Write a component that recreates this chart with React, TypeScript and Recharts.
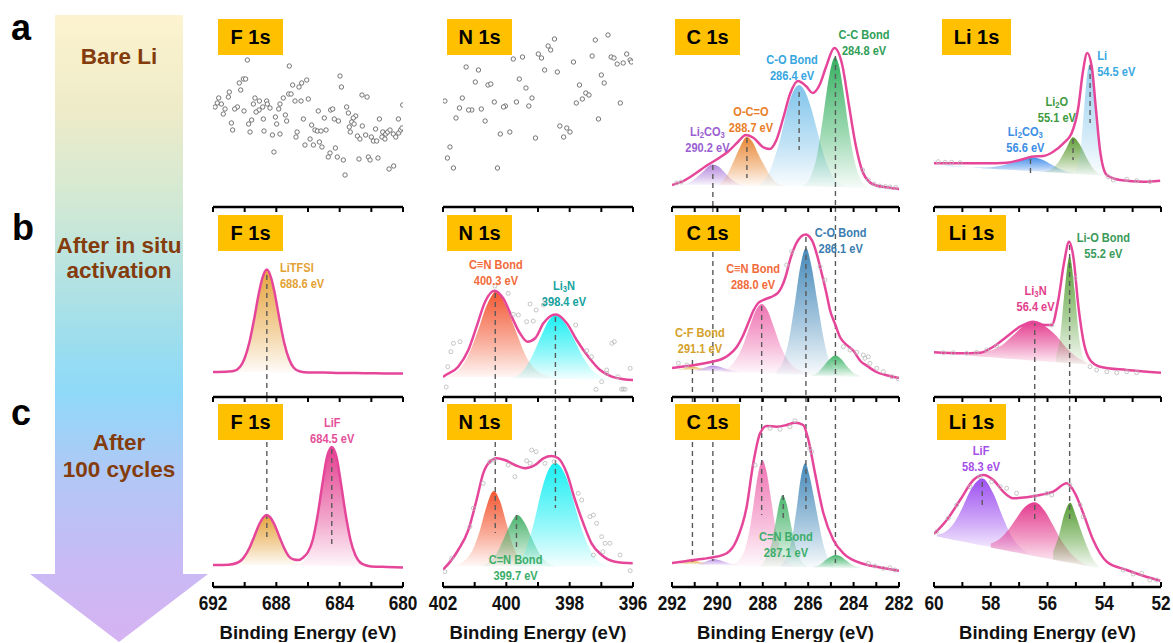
import React from "react";
import {
  ComposedChart,
  Area,
  Line,
  Scatter,
  XAxis,
  YAxis,
  ReferenceLine,
  ReferenceDot,
} from "recharts";

type P2 = [number, number];
type P3 = [number, number, number];

const FONT = "'Liberation Sans', Arial, Helvetica, sans-serif";
const PINK = "#E6469A";
const NARROW_X = 0.82;

// ---------- axes ----------
const F_TICKS = [692, 690, 688, 686, 684, 682, 680];
const F_LABELS = [692, 688, 684, 680];
const N_TICKS = [402, 401, 400, 399, 398, 397, 396];
const N_LABELS = [402, 400, 398, 396];
const C_TICKS = [292, 291, 290, 289, 288, 287, 286, 285, 284, 283, 282];
const C_LABELS = [292, 290, 288, 286, 284, 282];
const LI_TICKS = [60, 59, 58, 57, 56, 55, 54, 53, 52];
const LI_LABELS = [60, 58, 56, 54, 52];

// ---------- row a: bare Li ----------
const F_A_DOTS: P2[] = [
  [689.83, 146], [687.18, 140], [683.98, 130], [690.08, 127], [689.94, 127], [690.34, 123], [690.25, 116],
  [686.08, 126], [686.4, 123], [686.57, 119], [686.97, 121], [683.89, 119], [690.97, 114], [691.03, 109],
  [687.22, 112], [687.07, 112], [687.56, 108], [682.59, 111], [682.27, 109], [691.64, 108], [691.73, 103],
  [691.47, 102], [691.87, 99], [691.24, 97], [690.46, 99], [690.63, 97], [690.04, 95], [689.35, 108],
  [689.07, 105], [688.61, 105], [688.57, 102], [688.86, 99], [688.4, 98], [689.09, 96], [689.28, 94],
  [689.45, 102], [687.77, 102], [687.85, 97], [686.82, 105], [686.44, 105], [685.98, 107], [680.02, 101],
  [685.35, 95], [684.57, 96], [684.44, 97], [683.56, 99], [683.45, 93], [682.99, 90], [683.14, 88],
  [683.24, 84], [683.39, 79], [683.09, 82], [682.57, 80], [681.49, 87], [680.29, 87], [691.35, 92],
  [690.84, 83], [690.76, 76], [689.75, 82], [689.56, 86], [689.66, 74], [688.82, 87], [688.78, 75],
  [688.06, 89], [687.43, 91], [687.35, 85], [687.98, 82], [688.25, 71], [687.77, 72], [686.69, 74],
  [686.76, 69], [686.29, 87], [685.77, 81], [685.56, 76], [685.41, 75], [685.18, 75], [684.86, 76],
  [684.97, 88], [684.34, 87], [684.08, 85], [683.33, 74], [682.88, 70], [682.72, 67], [682.36, 71],
  [682.0, 69], [681.87, 65], [681.66, 65], [681.73, 77], [681.28, 74], [681.33, 69], [681.09, 72],
  [680.97, 74], [680.82, 76], [680.61, 72], [680.46, 69], [680.27, 73], [680.15, 76], [680.06, 78],
  [681.14, 67], [686.19, 61], [685.87, 67], [685.66, 61], [685.28, 64], [685.12, 59], [684.27, 58],
  [684.61, 53], [684.72, 49], [684.15, 49], [683.77, 46], [688.15, 54], [682.78, 47], [682.19, 49],
  [682.08, 46], [681.58, 48], [683.66, 31], [680.88, 37], [680.59, 40],
];

const N_A_DOTS: P2[] = [
  [398.48, 167], [398.68, 160], [398.6, 156], [398.99, 152], [398.89, 148], [399.78, 147], [399.49, 149],
  [401.27, 139], [400.88, 136], [397.19, 166], [396.79, 171], [397.29, 150], [397.88, 144], [396.69, 149],
  [396.6, 148], [396.2, 152], [396.09, 146], [396.31, 143], [396.5, 142], [396.05, 144], [398.79, 136],
  [398.39, 134], [399.59, 127], [400.98, 124], [400.58, 121], [400.49, 122], [399.38, 118], [397.0, 131],
  [396.91, 123], [397.69, 121], [397.49, 113], [397.6, 107], [397.39, 111], [397.79, 103], [399.19, 108],
  [399.29, 100], [399.68, 104], [400.03, 100], [400.09, 99], [400.38, 104], [400.79, 97], [401.09, 96],
  [401.19, 96], [401.48, 98], [401.39, 108], [401.94, 105], [401.59, 88], [400.67, 85], [396.4, 103],
  [397.09, 87], [398.31, 80], [398.09, 78], [397.99, 74], [398.19, 69], [399.08, 68], [399.89, 74],
  [400.19, 72], [401.78, 59], [401.86, 48], [401.67, 38], [400.28, 38],
];

const C_A_ENV: P2[] = [
  [292, 21], [291.5, 25], [291, 32], [290.5, 40], [290, 47], [289.5, 55], [289.1, 64], [288.75, 71],
  [288.4, 68], [288, 59], [287.7, 57], [287.4, 66], [287.1, 88], [286.8, 112], [286.45, 125], [286.1, 120],
  [285.8, 113], [285.5, 121], [285.2, 140], [284.85, 158], [284.5, 141], [284.2, 100], [283.9, 60],
  [283.6, 34], [283.3, 24], [283, 20.5], [282.5, 18.5], [282, 17],
];
const C_A_LI2CO3: P3[] = [
  [291.6, 21, 21.5], [291.2, 21, 24], [290.9, 21, 29], [290.6, 21, 35], [290.4, 21, 39.5], [290.2, 21, 41.5],
  [289.95, 20.5, 39.5], [289.7, 20.5, 34], [289.4, 20.5, 27], [289.1, 20.5, 22.5], [288.8, 20, 20.5],
];
const C_A_OCO: P3[] = [
  [289.9, 20.5, 22], [289.6, 20.5, 30], [289.3, 20.5, 44], [289.0, 20.5, 59], [288.72, 20, 69], [288.45, 20, 64],
  [288.2, 20, 52], [287.9, 20, 39], [287.6, 20, 28], [287.3, 20, 22], [287.0, 20, 20.5],
];
const C_A_CO: P3[] = [
  [288.1, 20, 23], [287.8, 20, 30], [287.5, 20, 47], [287.2, 20, 70], [286.9, 20, 99], [286.65, 20, 115],
  [286.4, 20, 121], [286.15, 20, 115], [285.9, 20, 100], [285.6, 19.5, 75], [285.3, 19.5, 50], [285.0, 19.5, 33],
  [284.7, 19.5, 24], [284.4, 19, 20.5],
];
const C_A_CC: P3[] = [
  [286.2, 19.5, 21], [285.9, 19.5, 29], [285.6, 19.5, 52], [285.35, 19.5, 88], [285.1, 19, 127], [284.95, 19, 143],
  [284.82, 19, 149], [284.65, 19, 141], [284.45, 19, 115], [284.2, 18.5, 75], [283.95, 18.5, 44], [283.7, 18.5, 27],
  [283.4, 18, 20],
];
const C_A_RAW: P2[] = [
  [291.8, 23], [291.6, 24], [283.6, 36], [283.35, 26], [283.1, 22], [282.85, 20], [282.6, 19.5], [282.4, 19], [282.15, 18.5],
];

const LI_A_ENV: P2[] = [
  [60, 42.7], [59.08, 42.7], [58.14, 42.7], [57.44, 43.3], [56.97, 46], [56.56, 49.3], [56.15, 50], [55.8, 54.3],
  [55.44, 62.7], [55.15, 72.7], [54.91, 99.3], [54.76, 132.7], [54.6, 153], [54.44, 139.3], [54.29, 96],
  [54.15, 56], [53.91, 31], [53.44, 26], [52.62, 24.3], [52.03, 25.3],
];
const LI_A_LI2CO3: P3[] = [
  [59.6, 40.3, 40.5], [59.1, 39.4, 39.8], [58.6, 38.2, 38.5], [58.2, 37.5, 38.6], [57.8, 36.8, 39.5],
  [57.4, 36.3, 42], [57.0, 35.6, 45.5], [56.6, 34.9, 48.7], [56.2, 34.2, 46.5], [55.8, 33.4, 40.5],
  [55.4, 32.7, 35], [55.0, 32, 32.3],
];
const LI_A_LI2O: P3[] = [
  [56.1, 33.9, 34.3], [55.85, 33.5, 37], [55.6, 33, 44.5], [55.35, 32.6, 57], [55.1, 32.2, 68.7],
  [54.85, 31.7, 61], [54.6, 31.3, 47], [54.35, 30.8, 36], [54.1, 30.4, 31.3],
];
const LI_A_LI: P3[] = [
  [55.0, 31.8, 35], [54.85, 31.6, 52], [54.7, 31.3, 100], [54.55, 31, 140], [54.45, 30.8, 143],
  [54.3, 30.5, 92], [54.15, 30.3, 48], [54.0, 30.1, 32],
];
const LI_A_RAW: P2[] = [
  [59.85, 44.3], [59.61, 43.7], [59.38, 43.7], [59.08, 43.3], [53.86, 29.3], [53.68, 26], [53.21, 26.7],
  [52.86, 25.3], [52.39, 24.3],
];

// ---------- row b: after in situ activation ----------
const F_B_ENV: P2[] = [
  [692, 25], [691, 25.5], [690.7, 26], [690.3, 30], [690, 38.8], [689.7, 54.7], [689.4, 78], [689.1, 104],
  [688.9, 118], [688.6, 127.5], [688.3, 117.5], [688.1, 103.5], [687.8, 77.5], [687.5, 54], [687.2, 38],
  [686.9, 29.3], [686.5, 25.5], [686, 24.5], [685, 24.5], [684, 24], [683, 24], [682, 23.7], [681, 23.5], [680, 23.5],
];
const F_B_LITFSI: P3[] = [
  [690.7, 25, 26], [690.3, 25, 30], [690, 25, 38.8], [689.7, 25, 54.7], [689.4, 25, 78], [689.1, 25, 104],
  [688.9, 25, 118], [688.6, 24.8, 127.5], [688.3, 24.7, 117.5], [688.1, 24.6, 103.5], [687.8, 24.6, 77.5],
  [687.5, 24.5, 54], [687.2, 24.5, 38], [686.9, 24.5, 29.3], [686.5, 24.5, 25.5],
];

const N_B_ENV: P2[] = [
  [402, 20], [401.96, 21], [401.52, 30.3], [401.2, 47], [400.94, 70.3], [400.67, 95.3], [400.38, 106.3],
  [400.1, 98.7], [399.83, 80.3], [399.57, 63.7], [399.33, 55.3], [399.09, 58.7], [398.83, 73.7], [398.44, 82.5],
  [398.09, 73.7], [397.78, 57], [397.41, 40.3], [397.04, 27], [396.67, 20.3], [396.3, 17.8], [396, 17],
];
const N_B_CN: P3[] = [
  [401.9, 20, 21], [401.5, 20, 27], [401.2, 20, 42], [400.9, 20, 66], [400.6, 20, 93], [400.3, 20, 106],
  [400.0, 20, 90], [399.7, 19.5, 66], [399.4, 19.5, 42], [399.1, 19.5, 28], [398.8, 19, 22], [398.5, 19, 19.5],
];
const N_B_LI3N: P3[] = [
  [399.8, 18.5, 19], [399.5, 18.5, 25], [399.2, 18.5, 40], [398.9, 18, 61], [398.65, 18, 77], [398.44, 18, 82],
  [398.2, 18, 76], [397.9, 18, 60], [397.6, 17.5, 41], [397.3, 17.5, 27], [397.0, 17.5, 20], [396.7, 17, 17.5],
];
const N_B_RAW: P2[] = [
  [401.67, 53.7], [401.46, 55.3], [401.75, 45.3], [401.85, 30.3], [399.94, 103.7], [399.78, 82.7], [399.62, 82],
  [399.36, 75.3], [399.15, 76], [399.25, 93], [399.06, 87], [398.78, 97], [398.46, 95.3], [397.81, 72],
  [397.46, 46.3], [397.31, 40.3], [396.67, 53.7], [396.59, 55.3], [396.99, 15.3], [396.83, 23.7], [396.48, 20.3],
  [396.36, 7.7], [396.25, 7.7], [397.17, 7.7], [400.36, 111], [398.83, 92], [396.83, 27], [396.31, 8],
  [396.09, 28.7], [401.9, 10],
];

const C_B_ENV: P2[] = [
  [292, 29], [291.5, 30.5], [291, 32], [290.5, 34], [290.2, 35.5], [289.8, 38], [289.5, 42], [289.15, 50],
  [288.9, 60], [288.64, 74], [288.4, 87], [288.2, 94], [287.98, 97], [287.75, 99], [287.54, 101], [287.3, 105],
  [287.17, 110], [287.0, 120], [286.8, 137], [286.6, 150], [286.44, 157], [286.11, 162.5], [285.9, 159],
  [285.78, 154], [285.6, 141], [285.41, 124], [285.2, 104], [285.04, 87], [284.8, 72], [284.6, 60], [284.3, 52],
  [284.0, 46], [283.7, 36], [283.4, 31], [283.0, 25], [282.5, 21.5], [282.0, 19],
];
const C_B_CF: P3[] = [
  [291.8, 26.5, 27], [291.4, 26.5, 29], [291.1, 26.5, 30.5], [290.8, 26.5, 29], [290.4, 26.5, 27],
];
const C_B_LI2CO3: P3[] = [
  [291.0, 26, 26.5], [290.6, 26, 29], [290.2, 25.5, 31.5], [289.8, 25.5, 29.5], [289.4, 25, 26.5], [289.0, 25, 25.3],
];
const C_B_CN: P3[] = [
  [289.8, 24.6, 26], [289.5, 24.5, 29.5], [289.2, 24.4, 37], [288.9, 24.3, 50], [288.6, 24.2, 69],
  [288.3, 24.1, 87], [288.05, 24, 93], [287.8, 23.8, 87], [287.5, 23.6, 69], [287.2, 23.4, 50],
  [286.9, 23.2, 37], [286.6, 23, 29.5], [286.3, 22.8, 26], [286.0, 22.6, 24],
];
const C_B_CO: P3[] = [
  [287.4, 22.5, 25.5], [287.1, 22.5, 36], [286.85, 22.5, 57], [286.6, 22.4, 92], [286.35, 22.3, 130],
  [286.1, 22.3, 149], [285.85, 22.2, 130], [285.6, 22.2, 96], [285.35, 22.1, 62], [285.1, 22, 38],
  [284.8, 22, 26], [284.5, 22, 22.7],
];
const C_B_CC: P3[] = [
  [285.9, 21, 21.5], [285.6, 21, 24], [285.3, 21, 31.5], [285.05, 20.5, 38], [284.8, 20.5, 41.5],
  [284.55, 20.5, 38], [284.3, 20, 31], [284.0, 20, 24], [283.7, 20, 21],
];
const C_B_RAW: P2[] = [
  [284.45, 50.3], [284.16, 47], [283.86, 44.7], [283.57, 42], [283.35, 40.3], [283.5, 38.7], [283.28, 33.7],
  [282.98, 28.7], [282.69, 25.3], [282.32, 20.3], [282.03, 18], [291.72, 33.7], [291.35, 32], [286.95, 132],
  [286.73, 145.3], [285.48, 130.3], [285.26, 117],
];

const LI_B_ENV: P2[] = [
  [60, 44.7], [59.08, 43.7], [58.38, 44.3], [57.91, 50.3], [57.44, 60.3], [56.97, 70.3], [56.5, 75.3],
  [56.09, 72], [55.85, 72], [55.62, 97], [55.42, 133.7], [55.24, 155.3], [55.09, 140.3], [54.91, 90.3],
  [54.74, 57], [54.5, 37], [54.15, 30.3], [53.21, 27], [52, 24.3],
];
const LI_B_LI3N: P3[] = [
  [58.8, 41.4, 42], [58.4, 40.5, 43.5], [58.0, 39.7, 46.5], [57.6, 38.8, 52], [57.2, 38, 62], [56.8, 37.1, 72],
  [56.45, 36.3, 76], [56.1, 35.6, 71], [55.7, 34.7, 61.5], [55.3, 33.9, 48], [54.9, 33, 38.5], [54.5, 32.2, 33.5],
];
const LI_B_LIO: P3[] = [
  [55.7, 34.7, 40.5], [55.55, 34.4, 61], [55.4, 34.1, 105], [55.22, 33.8, 140.5], [55.05, 33.5, 108],
  [54.9, 33.2, 63], [54.75, 32.9, 39.5], [54.6, 32.6, 33.5],
];
const LI_B_RAW: P2[] = [
  [59.67, 44.3], [59.32, 44.3], [58.85, 43.7], [58.5, 44.7], [58.14, 47], [57.79, 51], [55.85, 72], [55.03, 118.7],
  [54.5, 30.3], [54.27, 27], [53.91, 25.3], [53.56, 24.3], [53.21, 25.3], [52.86, 24.3],
];

// ---------- row c: after 100 cycles ----------
const F_C_ENV: P2[] = [
  [692, 22], [691, 22.3], [690.5, 24], [690.2, 27], [690, 30.8], [689.7, 39], [689.4, 50.3], [689.1, 62],
  [688.8, 70], [688.6, 72], [688.4, 69.8], [688.1, 61.8], [687.8, 50], [687.5, 38.8], [687.2, 30.5],
  [686.9, 27.5], [686.6, 27], [686.3, 29.5], [686, 35], [685.7, 47], [685.4, 71], [685.1, 102], [684.8, 130],
  [684.5, 140], [684.2, 130], [683.9, 101.5], [683.6, 70.5], [683.3, 46], [683, 31.5], [682.7, 24.5],
  [682.4, 22], [682, 20.5], [681, 20], [680, 19.5],
];
const F_C_LITFSI: P3[] = [
  [690.8, 22, 23], [690.5, 22, 24], [690.2, 22, 27], [690, 22, 30.8], [689.7, 22, 39], [689.4, 22, 50.3],
  [689.1, 22, 62], [688.8, 22, 70], [688.6, 22, 72], [688.4, 22, 69.8], [688.1, 22, 61.8], [687.8, 22, 50],
  [687.5, 21.8, 38.8], [687.2, 21.8, 30.5], [686.9, 21.8, 25.6], [686.6, 21.7, 23], [686.3, 21.7, 22],
];
const F_C_LIF: P3[] = [
  [687, 21.7, 21.9], [686.6, 21.6, 22.5], [686.3, 21.5, 25], [686, 21.4, 32], [685.7, 21.3, 46], [685.4, 21.2, 71],
  [685.1, 21.1, 102], [684.8, 21, 130], [684.5, 21, 140], [684.2, 20.9, 130], [683.9, 20.8, 101.5],
  [683.6, 20.7, 70.5], [683.3, 20.6, 46], [683, 20.5, 31.5], [682.7, 20.4, 24.5], [682.4, 20.3, 21.5], [682, 20.2, 20.5],
];

const N_C_ENV: P2[] = [
  [402, 17.5], [401.96, 18.7], [401.52, 37], [401.2, 57], [400.94, 87], [400.73, 113.7], [400.52, 125.3],
  [400.31, 128.7], [400.05, 127], [399.73, 122], [399.41, 118.7], [399.09, 122], [398.83, 128.7], [398.57, 131],
  [398.36, 128.7], [398.09, 113.7], [397.83, 87], [397.57, 63.7], [397.31, 43.7], [396.99, 32], [396.57, 25.3],
  [396.01, 23.7],
];
const N_C_CN: P3[] = [
  [401.6, 21, 22], [401.3, 21, 27], [401.05, 21, 38], [400.85, 21, 55], [400.65, 21, 78], [400.4, 21, 96],
  [400.2, 21, 86], [400.0, 21, 64], [399.8, 21, 42], [399.6, 21, 29], [399.4, 21, 23], [399.2, 21, 21.5],
];
const N_C_CEN: P3[] = [
  [400.8, 20.5, 21.5], [400.5, 20.5, 26], [400.3, 20.5, 34], [400.1, 20.5, 47], [399.9, 20.5, 61], [399.65, 20.5, 72],
  [399.4, 20.5, 63], [399.2, 20.5, 49], [399.0, 20.5, 36], [398.8, 20.5, 27], [398.5, 20, 21.5],
];
const N_C_LI3N: P3[] = [
  [399.9, 20.5, 21], [399.6, 20.5, 25], [399.3, 20.5, 45], [399.1, 20.5, 68], [398.9, 20.5, 95], [398.7, 20, 115],
  [398.46, 20, 124], [398.2, 20, 116], [398.0, 20, 100], [397.8, 20, 77], [397.6, 20, 56], [397.35, 20, 37],
  [397.1, 20, 26], [396.8, 20, 21.5],
];
const N_C_RAW: P2[] = [
  [399.2, 137], [399.06, 135.3], [400.52, 125.3], [400.39, 127], [399.94, 122], [399.73, 110.3], [399.36, 126.3],
  [399.25, 123.7], [398.78, 123.7], [398.49, 125.3], [400.73, 103.7], [401.04, 78.7], [401.15, 60.3],
  [401.73, 28.7], [397.73, 93.7], [397.62, 87], [397.36, 70.3], [397.25, 72], [397.15, 63.7], [396.99, 50.3],
  [396.88, 43.7], [396.73, 43.7], [396.95, 35.3], [397.25, 32], [396.41, 32], [396.09, 16.3], [401.94, 15.3],
];

const C_C_ENV: P2[] = [
  [292, 24], [291.5, 25.5], [291.06, 27], [290.6, 28.3], [290.18, 29.7], [289.59, 33.7], [289.15, 47],
  [288.71, 80.3], [288.42, 123.7], [288.12, 153.7], [287.83, 161], [287.39, 160.3], [286.95, 162],
  [286.58, 164.3], [286.22, 162], [285.99, 147], [285.7, 113.7], [285.33, 73.7], [284.89, 47], [284.45, 33.7],
  [283.86, 25.3], [283.3, 21.5], [282.7, 19], [282, 16.3],
];
const C_C_CF: P3[] = [
  [291.7, 22.5, 23], [291.3, 22.5, 25.5], [291.0, 22.5, 26], [290.7, 22.5, 24.5], [290.4, 22.5, 23],
];
const C_C_LI2CO3: P3[] = [
  [290.9, 22, 22.5], [290.5, 22, 25.5], [290.15, 22, 28], [289.8, 22, 26], [289.4, 21.5, 23], [289.0, 21.5, 21.8],
];
const C_C_CN: P3[] = [
  [289.3, 21, 23], [289.05, 21, 27], [288.8, 21, 37], [288.6, 21, 55], [288.4, 21, 84], [288.2, 21, 114],
  [288.02, 21, 127], [287.85, 21, 117], [287.65, 21, 90], [287.45, 20.8, 60], [287.25, 20.8, 39],
  [287.0, 20.6, 27], [286.7, 20.5, 22],
];
const C_C_CEN: P3[] = [
  [288.1, 20, 22], [287.85, 20, 29], [287.6, 20, 45], [287.4, 20, 69], [287.25, 20, 86], [287.12, 20, 92],
  [286.95, 20, 83], [286.75, 20, 61], [286.55, 20, 40], [286.3, 20, 26], [286.05, 20, 21],
];
const C_C_CO: P3[] = [
  [287.2, 20, 22], [286.95, 20, 30], [286.7, 20, 50], [286.5, 20, 80], [286.3, 20, 112.5], [286.13, 20, 124],
  [285.95, 20, 112], [285.75, 20, 90], [285.55, 20, 66], [285.35, 20, 44], [285.15, 20, 30], [284.9, 20, 22.5],
];
const C_C_CC: P3[] = [
  [285.8, 19.5, 20], [285.5, 19.5, 22], [285.2, 19.5, 27.5], [284.95, 19, 31], [284.8, 19, 32], [284.6, 19, 31],
  [284.35, 19, 27], [284.05, 18.5, 22], [283.7, 18.5, 19.5],
];
const C_C_RAW: P2[] = [
  [287.68, 158.7], [287.24, 157.7], [286.8, 160.3], [286.58, 166.3], [285.93, 138.7], [285.85, 135.3],
  [288.34, 122], [283.35, 23.7], [283.06, 21], [282.69, 18.7], [282.4, 19.3], [282.18, 17],
];

const LI_C_ENV: P2[] = [
  [60, 53], [59.55, 67], [59.08, 87], [58.61, 107], [58.26, 112], [57.91, 107], [57.56, 95.3], [57.21, 88.7],
  [56.73, 89.7], [56.26, 92], [55.8, 95.3], [55.32, 103.7], [55.03, 93.7], [54.74, 73.7], [54.39, 47],
  [53.91, 25.3], [53.21, 17], [52.6, 11], [52.03, 6.3],
];
const LI_C_LIF: P3[] = [
  [59.9, 50.4, 52.3], [59.6, 48.8, 55.2], [59.3, 47.1, 63.8], [59.0, 45.4, 79.3], [58.7, 43.8, 97.4],
  [58.3, 41.5, 108.5], [57.9, 39.3, 92.9], [57.6, 37.6, 71.5], [57.3, 35.9, 52.6], [57.0, 34.3, 40.7], [56.7, 32.6, 34.5],
];
const LI_C_LI3N: P3[] = [
  [58.0, 39.5, 43.5], [57.7, 37.7, 47.7], [57.4, 36.1, 56.5], [57.1, 34.4, 68.6], [56.8, 32.8, 80.1],
  [56.45, 30.8, 84.8], [56.1, 28.9, 76.2], [55.8, 27.2, 61.4], [55.5, 25.5, 45.9], [55.2, 24.3, 34.3],
  [54.9, 22.6, 26.6], [54.6, 20.9, 21.9],
];
const LI_C_LIO: P3[] = [
  [55.8, 27.6, 35.7], [55.6, 26.5, 51.2], [55.4, 25.4, 73.4], [55.2, 24.3, 84.3], [55.0, 23.2, 71.2],
  [54.8, 22.1, 55], [54.6, 21, 40], [54.4, 19.8, 28], [54.2, 18.7, 21],
];
const LI_C_RAW: P2[] = [
  [59.91, 55.3], [59.5, 68.7], [59.2, 82], [58.73, 100.3], [58.38, 110.3], [57.97, 105.3], [57.67, 100.3],
  [57.44, 98.7], [57.09, 93.7], [56.44, 91], [56.03, 93.7], [55.85, 92], [55.21, 102], [54.85, 82], [54.74, 70.3],
  [53.33, 17], [52.98, 13], [52.68, 13.7], [52.39, 7], [52.15, 7],
];

// ---------- layout ----------
type ColKey = "F" | "N" | "C" | "Li";
type RowKey = "a" | "b" | "c";

const COLS: Record<ColKey, { x: number; w: number; lo: number; hi: number; ticks: number[]; labels: number[]; title: string; boxW: number }> = {
  F: { x: 213, w: 190, lo: 680, hi: 692, ticks: F_TICKS, labels: F_LABELS, title: "F 1s", boxW: 65 },
  N: { x: 443, w: 190, lo: 396, hi: 402, ticks: N_TICKS, labels: N_LABELS, title: "N 1s", boxW: 65 },
  C: { x: 672, w: 227, lo: 282, hi: 292, ticks: C_TICKS, labels: C_LABELS, title: "C 1s", boxW: 65 },
  Li: { x: 934, w: 227, lo: 52, hi: 60, ticks: LI_TICKS, labels: LI_LABELS, title: "Li 1s", boxW: 69 },
};
const ROW_TOP: Record<RowKey, number> = { a: 16, b: 207, c: 397 };
const BOX_DY: Record<RowKey, number> = { a: 3, b: 8, c: 7 };
const PLOT_H = 190;
const PAD_X = 24;

interface Comp { pts: P3[]; color: string }
interface Note { e: number; y: number; l1: string; l2: string; color: string; anchor?: "start" | "middle" }
interface Spec {
  col: ColKey;
  row: RowKey;
  env?: P2[];
  comps?: Comp[];
  dots?: P2[];
  raw?: P2[];
  dashes?: P3[];
  notes?: Note[];
}

const PANELS: Spec[] = [
  { col: "F", row: "a", dots: F_A_DOTS },
  { col: "N", row: "a", dots: N_A_DOTS },
  {
    col: "C", row: "a", env: C_A_ENV, raw: C_A_RAW,
    comps: [
      { pts: C_A_LI2CO3, color: "#B184DC" },
      { pts: C_A_OCO, color: "#E8842F" },
      { pts: C_A_CO, color: "#7CC2EA" },
      { pts: C_A_CC, color: "#2FAE5C" },
    ],
    dashes: [[290.2, 41, 0], [288.7, 68, 28], [286.4, 114, 56], [284.8, 150, 0]],
    notes: [
      { e: 283.54, y: 164, l1: "C-C Bond", l2: "284.8 eV", color: "#2F9E58" },
      { e: 286.71, y: 139, l1: "C-O Bond", l2: "286.4 eV", color: "#35A6DF" },
      { e: 288.52, y: 87, l1: "O-C=O", l2: "288.7 eV", color: "#E97E27" },
      { e: 290.44, y: 67, l1: "Li_2CO_3", l2: "290.2 eV", color: "#9A5FD2" },
    ],
  },
  {
    col: "Li", row: "a", env: LI_A_ENV, raw: LI_A_RAW,
    comps: [
      { pts: LI_A_LI2CO3, color: "#3F8BEA" },
      { pts: LI_A_LI2O, color: "#5A9A2E" },
      { pts: LI_A_LI, color: "#92CDEE" },
    ],
    dashes: [[56.6, 47, 33], [55.1, 67, 46], [54.5, 141, 83]],
    notes: [
      { e: 54.25, y: 143, l1: "Li", l2: "54.5 eV", color: "#38A8E0", anchor: "start" },
      { e: 55.67, y: 97, l1: "Li_2O", l2: "55.1 eV", color: "#3E9A40" },
      { e: 56.78, y: 67, l1: "Li_2CO_3", l2: "56.6 eV", color: "#3B8EE5" },
    ],
  },
  {
    col: "F", row: "b", env: F_B_ENV,
    comps: [{ pts: F_B_LITFSI, color: "#E5A036" }],
    dashes: [[688.6, 122, 0]],
    notes: [{ e: 687.77, y: 122, l1: "LiTFSI", l2: "688.6 eV", color: "#E3A233", anchor: "start" }],
  },
  {
    col: "N", row: "b", env: N_B_ENV, raw: N_B_RAW,
    comps: [
      { pts: N_B_CN, color: "#F2512B" },
      { pts: N_B_LI3N, color: "#12EEF2" },
    ],
    dashes: [[400.35, 104, 0], [398.45, 80, 0]],
    notes: [
      { e: 400.33, y: 125, l1: "C≡N Bond", l2: "400.3 eV", color: "#F26B3A" },
      { e: 398.18, y: 104, l1: "Li_3N", l2: "398.4 eV", color: "#16A2A0" },
    ],
  },
  {
    col: "C", row: "b", env: C_B_ENV, raw: C_B_RAW,
    comps: [
      { pts: C_B_CF, color: "#E0AA3A" },
      { pts: C_B_LI2CO3, color: "#B78BE3" },
      { pts: C_B_CN, color: "#EE6FB0" },
      { pts: C_B_CO, color: "#3F86B8" },
      { pts: C_B_CC, color: "#3DB568" },
    ],
    dashes: [[291.1, 37, 0], [290.2, 190, 0], [288.05, 91, 0], [286.1, 160, 0], [284.8, 190, 0]],
    notes: [
      { e: 284.57, y: 157, l1: "C-O Bond", l2: "286.1 eV", color: "#3A7DB0" },
      { e: 288.43, y: 121, l1: "C≡N Bond", l2: "288.0 eV", color: "#F26B3A" },
      { e: 290.77, y: 57, l1: "C-F Bond", l2: "291.1 eV", color: "#D4A12A" },
    ],
  },
  {
    col: "Li", row: "b", env: LI_B_ENV, raw: LI_B_RAW,
    comps: [
      { pts: LI_B_LI3N, color: "#E3358A" },
      { pts: LI_B_LIO, color: "#4F9A2C" },
    ],
    dashes: [[56.45, 76, 0], [55.22, 152, 0]],
    notes: [
      { e: 54.03, y: 152, l1: "Li-O Bond", l2: "55.2 eV", color: "#3A9A5A" },
      { e: 56.42, y: 99, l1: "Li_3N", l2: "56.4 eV", color: "#E2408C" },
    ],
  },
  {
    col: "F", row: "c", env: F_C_ENV,
    comps: [
      { pts: F_C_LITFSI, color: "#E5A036" },
      { pts: F_C_LIF, color: "#E2388C" },
    ],
    dashes: [[688.6, 190, 50], [684.5, 138, 42]],
    notes: [{ e: 684.47, y: 157, l1: "LiF", l2: "684.5 eV", color: "#E6509A" }],
  },
  {
    col: "N", row: "c", env: N_C_ENV, raw: N_C_RAW,
    comps: [
      { pts: N_C_CN, color: "#F2512B" },
      { pts: N_C_CEN, color: "#46B26B" },
      { pts: N_C_LI3N, color: "#12EEF2" },
    ],
    dashes: [[400.35, 190, 54], [399.68, 72, 40], [398.45, 190, 79]],
    notes: [{ e: 399.71, y: 20, l1: "C=N Bond", l2: "399.7 eV", color: "#3AAE6A" }],
  },
  {
    col: "C", row: "c", env: C_C_ENV, raw: C_C_RAW,
    comps: [
      { pts: C_C_CF, color: "#E0AA3A" },
      { pts: C_C_LI2CO3, color: "#B78BE3" },
      { pts: C_C_CN, color: "#EE6FB0" },
      { pts: C_C_CEN, color: "#45B46A" },
      { pts: C_C_CO, color: "#3F86B8" },
      { pts: C_C_CC, color: "#3DB568" },
    ],
    dashes: [[291.1, 190, 25], [290.2, 190, 26], [288.05, 190, 72], [287.1, 92, 66], [286.1, 190, 78], [284.8, 190, 24]],
    notes: [{ e: 286.98, y: 43, l1: "C=N Bond", l2: "287.1 eV", color: "#3AAE6A" }],
  },
  {
    col: "Li", row: "c", env: LI_C_ENV, raw: LI_C_RAW,
    comps: [
      { pts: LI_C_LIF, color: "#9A4AF0" },
      { pts: LI_C_LI3N, color: "#E3358A" },
      { pts: LI_C_LIO, color: "#4F9A2C" },
    ],
    dashes: [[56.45, 190, 64], [55.22, 190, 65], [58.3, 105, 79]],
    notes: [{ e: 58.34, y: 129, l1: "LiF", l2: "58.3 eV", color: "#A64FEA" }],
  },
];

function buildTable(env?: P2[], comps?: Comp[]) {
  const map = new Map<number, any>();
  const get = (e: number) => {
    if (!map.has(e)) map.set(e, { e });
    return map.get(e);
  };
  (env || []).forEach(([e, y]) => (get(e).env = y));
  (comps || []).forEach((c, i) => c.pts.forEach(([e, b, t]) => (get(e)["c" + i] = [b, t])));
  return Array.from(map.values()).sort((a, b) => b.e - a.e);
}

const Rich = ({ s }: { s: string }) => {
  const parts = s.split(/_(\d)/);
  return (
    <>
      {parts.map((p, i) =>
        i % 2 ? (
          <tspan key={i} baselineShift="-18%" fontSize="70%">{p}</tspan>
        ) : p ? (
          <tspan key={i}>{p}</tspan>
        ) : null
      )}
    </>
  );
};

// narrow bold look: Liberation Sans squeezed horizontally
const NoteText = ({ cx, cy, n }: any) => (
  <g
    transform={`translate(${cx},${cy}) scale(${NARROW_X},1)`}
    fontFamily={FONT}
    fontWeight={700}
    fontSize={13.5}
    fill={n.color}
    textAnchor={n.anchor || "middle"}
  >
    <text x={0} y={-2.8}><Rich s={n.l1} /></text>
    <text x={0} y={12.6}><Rich s={n.l2} /></text>
  </g>
);

const BottomTick = ({ x, y, payload, labels }: any) =>
  labels.includes(payload.value) ? (
    <text
      transform={`translate(${x},${y + 14}) scale(${NARROW_X},1)`}
      textAnchor="middle"
      fontFamily={FONT}
      fontWeight={700}
      fontSize={21}
      fill="#111"
    >
      {payload.value}
    </text>
  ) : (
    <g />
  );

const Panel = ({ spec, id }: { spec: Spec; id: string }) => {
  const col = COLS[spec.col];
  const row = spec.row;
  const hasTop = row !== "a";
  const hasBottom = row === "c";
  const padTop = 8;
  const topH = hasTop ? 1 : 0;
  const bottomH = hasBottom ? 55 : 0;
  const padBottom = hasBottom ? 0 : 2;
  const width = col.w + 2 * PAD_X;
  const height = padTop + topH + PLOT_H + bottomH + padBottom;
  const table = buildTable(spec.env, spec.comps);
  const axisLine = { stroke: "#000", strokeWidth: 2.4 };
  const tickLine = { stroke: "#000", strokeWidth: 2 };

  return (
    <div style={{ position: "absolute", left: col.x - PAD_X, top: ROW_TOP[row] - padTop - topH }}>
      <ComposedChart
        width={width}
        height={height}
        data={table}
        margin={{ top: padTop, right: PAD_X, bottom: padBottom, left: PAD_X }}
      >
        <defs>
          {(spec.comps || []).map((c, i) => (
            <linearGradient key={i} id={`${id}-g${i}`} x1="0" y1="0" x2="0" y2="1">
              <stop offset="0" stopColor={c.color} stopOpacity={0.97} />
              <stop offset="0.6" stopColor={c.color} stopOpacity={0.45} />
              <stop offset="1" stopColor={c.color} stopOpacity={0.04} />
            </linearGradient>
          ))}
        </defs>
        <XAxis
          xAxisId={0}
          dataKey="e"
          type="number"
          domain={[col.lo, col.hi]}
          reversed
          allowDataOverflow
          ticks={col.ticks}
          interval={0}
          hide={!hasBottom}
          height={bottomH}
          orientation="bottom"
          axisLine={axisLine}
          tickLine={tickLine}
          tickSize={-5}
          tickMargin={14}
          tick={(p: any) => <BottomTick {...p} labels={col.labels} />}
          label={
            hasBottom
              ? {
                  value: "Binding Energy (eV)",
                  position: "insideBottom",
                  offset: 3,
                  fill: "#111",
                  fontSize: 18.5,
                  fontWeight: 700,
                  fontFamily: FONT,
                }
              : undefined
          }
        />
        {hasTop && (
          <XAxis
            xAxisId="top"
            dataKey="e"
            type="number"
            domain={[col.lo, col.hi]}
            reversed
            allowDataOverflow
            ticks={col.ticks}
            interval={0}
            orientation="top"
            height={1}
            axisLine={axisLine}
            tickLine={tickLine}
            tickSize={-5}
            tick={() => <g />}
          />
        )}
        <YAxis hide type="number" domain={[0, PLOT_H]} allowDataOverflow />
        {(spec.comps || []).map((c, i) => (
          <Area
            key={i}
            dataKey={"c" + i}
            type="monotone"
            stroke="none"
            fill={`url(#${id}-g${i})`}
            fillOpacity={1}
            connectNulls
            dot={false}
            activeDot={false}
            isAnimationActive={false}
          />
        ))}
        {(spec.dashes || []).map(([e, y1, y2], i) => (
          <ReferenceLine
            key={"d" + i}
            segment={[{ x: e, y: y1 }, { x: e, y: y2 }]}
            stroke="#5A5A5A"
            strokeWidth={1.4}
            strokeDasharray="5 4"
            ifOverflow="visible"
          />
        ))}
        {spec.raw && (
          <Scatter
            data={spec.raw.map(([e, y]) => ({ e, y }))}
            dataKey="y"
            isAnimationActive={false}
            shape={(p: any) => <circle cx={p.cx} cy={p.cy} r={2} fill="none" stroke="#B8B8B8" strokeWidth={0.8} />}
          />
        )}
        {spec.dots && (
          <Scatter
            data={spec.dots.map(([e, y]) => ({ e, y }))}
            dataKey="y"
            isAnimationActive={false}
            shape={(p: any) => <circle cx={p.cx} cy={p.cy} r={2.2} fill="#fff" stroke="#555" strokeWidth={0.8} />}
          />
        )}
        {spec.env && (
          <Line
            dataKey="env"
            type="monotone"
            stroke={PINK}
            strokeWidth={2.5}
            dot={false}
            activeDot={false}
            connectNulls
            isAnimationActive={false}
          />
        )}
        {(spec.notes || []).map((n, i) => (
          <ReferenceDot
            key={"n" + i}
            x={n.e}
            y={n.y}
            r={0}
            ifOverflow="visible"
            shape={(p: any) => <NoteText cx={p.cx} cy={p.cy} n={n} />}
          />
        ))}
      </ComposedChart>
    </div>
  );
};

const TitleBox = ({ col, row }: { col: ColKey; row: RowKey }) => {
  const c = COLS[col];
  const dx = col === "F" ? 5 : col === "N" ? 4 : col === "Li" && row === "a" ? 8 : 3;
  return (
    <div
      style={{
        position: "absolute",
        left: c.x + dx,
        top: ROW_TOP[row] + BOX_DY[row],
        width: c.boxW,
        height: 36,
        background: "#FFC000",
        color: "#000",
        fontFamily: FONT,
        fontWeight: 700,
        fontSize: 20,
        lineHeight: "36px",
        textAlign: "center",
      }}
    >
      {c.title}
    </div>
  );
};

const SideArrow = () => (
  <svg width={215} height={643} style={{ position: "absolute", left: 0, top: 0 }}>
    <defs>
      <linearGradient id="arrowGrad" x1="0" y1="15" x2="0" y2="643" gradientUnits="userSpaceOnUse">
        <stop offset="0" stopColor="#FDF3D0" />
        <stop offset="0.15" stopColor="#EEEBC8" />
        <stop offset="0.29" stopColor="#D3E9D3" />
        <stop offset="0.43" stopColor="#B2E2E3" />
        <stop offset="0.53" stopColor="#9ADDEF" />
        <stop offset="0.6" stopColor="#8FD9F8" />
        <stop offset="0.73" stopColor="#B0C8F6" />
        <stop offset="0.87" stopColor="#C8BAF5" />
        <stop offset="1" stopColor="#D6B3F2" />
      </linearGradient>
    </defs>
    <path d="M55 15 H183 V574 H208 L119 642 L30 574 H55 Z" fill="url(#arrowGrad)" />
    <g fontFamily={FONT} fontWeight={700} fill="#843C0C" textAnchor="middle" fontSize={22.5}>
      <text x={119} y={64}>Bare Li</text>
      <text x={119} y={253}>After in situ</text>
      <text x={119} y={278}>activation</text>
      <text x={119} y={450}>After</text>
      <text x={119} y={477}>100 cycles</text>
    </g>
    <g fontFamily={FONT} fontWeight={700} fill="#000" fontSize={36}>
      <text x={11} y={40}>a</text>
      <text x={12} y={240}>b</text>
      <text x={11} y={425}>c</text>
    </g>
  </svg>
);

export default function App() {
  return (
    <div
      style={{
        position: "absolute",
        left: 0,
        top: 0,
        width: 1173,
        height: 643,
        background: "#fff",
        overflow: "hidden",
      }}
    >
      <SideArrow />
      {PANELS.map((s, i) => (
        <Panel key={i} spec={s} id={`p${i}`} />
      ))}
      {(["a", "b", "c"] as RowKey[]).map((r) =>
        (["F", "N", "C", "Li"] as ColKey[]).map((c) => <TitleBox key={r + c} col={c} row={r} />)
      )}
    </div>
  );
}
